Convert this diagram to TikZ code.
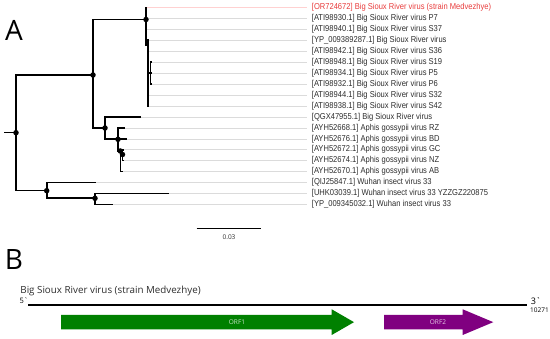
\documentclass[tikz,border=0pt]{standalone}
\usepackage{fontspec}
\setmainfont{Open Sans}
\newfontfamily\labfont[FakeStretch=0.88]{Liberation Sans}
\definecolor{orfgreen}{RGB}{0,128,0}
\definecolor{orfpurple}{RGB}{128,0,128}
\definecolor{redlab}{RGB}{232,60,60}
\definecolor{labgrey}{RGB}{45,45,45}
\begin{document}
\begin{tikzpicture}[x=1pt,y=-1pt,
  branch/.style={line width=1.6pt, black},
  guide/.style={line width=0.5pt, color=black!14},
  redguide/.style={line width=0.5pt, color=red!18},
  tiplabel/.style={anchor=west, inner sep=0pt, font=\labfont\fontsize{8.6}{9}\selectfont, text=labgrey},
  dotnode/.style={circle, fill=black, inner sep=0pt, minimum size=5.5pt},
  orflabel/.style={inner sep=0pt, font=\fontsize{6.5}{7}\selectfont}]
\useasboundingbox (0,0) rectangle (550,339);

% tips
\coordinate (t0) at (146,7.4);
\coordinate (t1) at (147.5,18.35);
\coordinate (t2) at (147,29.3);
\coordinate (t3) at (149,40.25);
\coordinate (t4) at (149,51.2);
\coordinate (t5) at (151.5,62.15);
\coordinate (t6) at (151.5,73.1);
\coordinate (t7) at (151.5,84.05);
\coordinate (t8) at (149,95.0);
\coordinate (t9) at (149,105.95);
\coordinate (t10) at (141,116.9);
\coordinate (t11) at (125,127.85);
\coordinate (t12) at (126.5,138.8);
\coordinate (t13) at (124,149.75);
\coordinate (t14) at (124,160.7);
\coordinate (t15) at (123,171.65);
\coordinate (t16) at (95.7,182.6);
\coordinate (t17) at (169,193.55);
\coordinate (t18) at (112.7,204.5);

% internal nodes
\coordinate (stem) at (4,132.7);
\coordinate (root) at (16,132.7);
\coordinate (n1) at (93,75);
\coordinate (bs) at (146,19.5);
\coordinate (bsb) at (148,45.7);
\coordinate (bsc) at (150.3,73);
\coordinate (ag) at (105,128);
\coordinate (ap) at (118,139.3);
\coordinate (aq) at (120.3,151);
\coordinate (ar) at (122.5,154.5);
\coordinate (nw) at (46.7,190.7);
\coordinate (nx) at (95,198.3);

% labels
\node[tiplabel, text=redlab] (l0) at (311.7,7.4) {[OR724672] Big Sioux River virus (strain Medvezhye)};
\node[tiplabel] (l1) at (311.7,18.35) {[ATI98930.1] Big Sioux River virus P7};
\node[tiplabel] (l2) at (311.7,29.3) {[ATI98940.1] Big Sioux River virus S37};
\node[tiplabel] (l3) at (311.7,40.25) {[YP\_009389287.1] Big Sioux River virus};
\node[tiplabel] (l4) at (311.7,51.2) {[ATI98942.1] Big Sioux River virus S36};
\node[tiplabel] (l5) at (311.7,62.15) {[ATI98948.1] Big Sioux River virus S19};
\node[tiplabel] (l6) at (311.7,73.1) {[ATI98934.1] Big Sioux River virus P5};
\node[tiplabel] (l7) at (311.7,84.05) {[ATI98932.1] Big Sioux River virus P6};
\node[tiplabel] (l8) at (311.7,95.0) {[ATI98944.1] Big Sioux River virus S32};
\node[tiplabel] (l9) at (311.7,105.95) {[ATI98938.1] Big Sioux River virus S42};
\node[tiplabel] (l10) at (311.7,116.9) {[QGX47955.1] Big Sioux River virus};
\node[tiplabel] (l11) at (311.7,127.85) {[AYH52668.1] Aphis gossypii virus RZ};
\node[tiplabel] (l12) at (311.7,138.8) {[AYH52676.1] Aphis gossypii virus BD};
\node[tiplabel] (l13) at (311.7,149.75) {[AYH52672.1] Aphis gossypii virus GC};
\node[tiplabel] (l14) at (311.7,160.7) {[AYH52674.1] Aphis gossypii virus NZ};
\node[tiplabel] (l15) at (311.7,171.65) {[AYH52670.1] Aphis gossypii virus AB};
\node[tiplabel] (l16) at (311.7,182.6) {[QIJ25847.1] Wuhan insect virus 33};
\node[tiplabel] (l17) at (311.7,193.55) {[UHK03039.1] Wuhan insect virus 33 YZZGZ220875};
\node[tiplabel] (l18) at (311.7,204.5) {[YP\_009345032.1] Wuhan insect virus 33};

% guide lines
\draw[redguide] (t0) -- ([xshift=-4.7pt]l0.west);
\foreach \i in {1,...,18} {\draw[guide] (t\i) -- ([xshift=-4.7pt]l\i.west);}

% branches
\draw[branch] (stem) -- (root);
\draw[branch] (root) |- (n1);
\draw[branch] (root) |- (nw);
\draw[branch] (n1) |- (bs);
\draw[branch] (n1) |- (ag);
% Big Sioux comb
\draw[branch] (bs) |- (t0);
\draw[branch] (bs) |- (t1);
\draw[branch] (bs) |- (t2);
\draw[branch] (bs) |- (bsb);
\draw[branch] (bsb) |- (t3);
\draw[branch] (bsb) |- (t4);
\draw[branch] (bsb) |- (bsc);
\draw[branch] (bsc) |- (t5);
\draw[branch] (bsc) |- (t6);
\draw[branch] (bsc) |- (t7);
\draw[branch] (bsb) |- (t8);
\draw[branch] (bsb) |- (t9);
% Aphis clade
\draw[branch] (ag) |- (t10);
\draw[branch] (ag) |- (ap);
\draw[branch] (ap) |- (t11);
\draw[branch] (ap) |- (t12);
\draw[branch] (ap) |- (aq);
\draw[branch] (aq) |- (t15);
\draw[branch] (aq) |- (ar);
\draw[branch] (ar) |- (t13);
\draw[branch] (ar) |- (t14);
% Wuhan clade
\draw[branch] (nw) |- (t16);
\draw[branch] (nw) |- (nx);
\draw[branch] (nx) |- (t17);
\draw[branch] (nx) |- (t18);

% node dots
\foreach \c in {root,n1,bs,ag,ap,aq,ar,nw,nx} {\node[dotnode] at (\c) {};}

% scale bar
\coordinate (sb1) at (196.7,228.3);
\coordinate (sb2) at (261,228.3);
\draw[line width=1.4pt] (sb1) -- (sb2);
\node[inner sep=0pt, font=\fontsize{6.5}{7}\selectfont, text=labgrey] (sblab) at (229,237) {0.03};

% panel letters
\node[inner sep=0pt, font=\fontsize{28}{30}\selectfont] (pa) at (14,30) {A};
\node[inner sep=0pt, font=\fontsize{28}{30}\selectfont] (pb) at (14,260) {B};

% panel B
\node[anchor=west, inner sep=0pt, font=\fontsize{9.8}{11}\selectfont, text=labgrey] (title) at (20.2,290.7) {Big Sioux River virus (strain Medvezhye)};
\coordinate (g5) at (28,305);
\coordinate (g3) at (526.7,305);
\draw[line width=2.4pt] (g5) -- (g3);
\node[inner sep=0pt, font=\fontsize{7.5}{8}\selectfont] (p5) at (24,301) {5\textasciigrave};
\node[inner sep=0pt, font=\fontsize{9}{10}\selectfont] (p3) at (536,301.5) {3\textasciigrave};
\node[inner sep=0pt, font=\fontsize{6.5}{7}\selectfont] (len) at (539.5,310.5) {10271};

\fill[orfgreen] (61,315) -- (331.7,315) -- (331.7,309.3) -- (354,322.15) -- (331.7,335) -- (331.7,329.3) -- (61,329.3) -- cycle;
\fill[orfpurple] (384,315) -- (462.7,315) -- (462.7,309.3) -- (493.3,322.15) -- (462.7,335) -- (462.7,329.3) -- (384,329.3) -- cycle;
\node[orflabel, text=white!80!orfgreen] (orf1) at (237,322.2) {ORF1};
\node[orflabel, text=white!80!orfpurple] (orf2) at (438,322.2) {ORF2};
\end{tikzpicture}
\end{document}
